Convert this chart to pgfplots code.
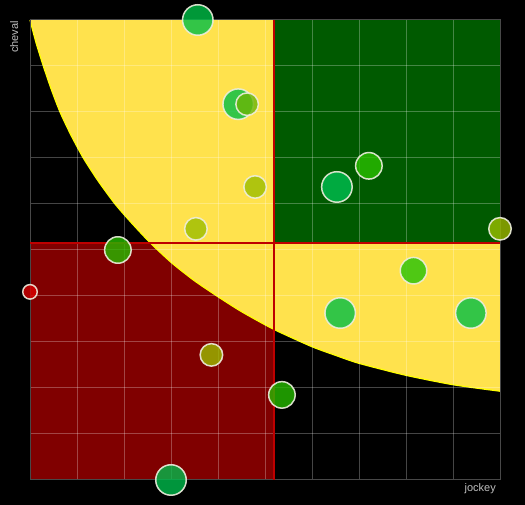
\documentclass[border=0pt]{standalone}
\usepackage{xcolor}
\usepackage{fontspec}
\setmainfont{Liberation Sans}
\usepackage{pgfplots}
\pgfplotsset{compat=1.18}
\definecolor{qred}{RGB}{128,0,0}
\definecolor{qgreen}{RGB}{0,90,0}
\definecolor{qyellow}{RGB}{255,226,77}
\definecolor{curveline}{RGB}{255,255,0}
\definecolor{divline}{RGB}{190,0,0}
\definecolor{frame}{RGB}{72,72,72}
\definecolor{lbl}{RGB}{190,190,190}
\definecolor{bstroke}{RGB}{238,238,222}
\definecolor{cA}{RGB}{0,190,70}
\definecolor{cB}{RGB}{107,181,6}
\definecolor{cC}{RGB}{156,189,0}
\definecolor{cD}{RGB}{0,190,80}
\definecolor{cE}{RGB}{42,190,0}
\definecolor{cF}{RGB}{155,190,0}
\definecolor{cG}{RGB}{38,187,0}
\definecolor{cH}{RGB}{220,0,0}
\definecolor{cI}{RGB}{36,194,6}
\definecolor{cJ}{RGB}{155,187,0}
\definecolor{cK}{RGB}{0,187,75}
\pagecolor{black}
\begin{document}
\begin{tikzpicture}[x=1pt,y=1pt]
\path (0,0) rectangle (525,505);
\begin{axis}[
  at={(30pt,25pt)}, anchor=south west,
  scale only axis, width=470pt, height=460pt,
  xmin=0, xmax=10, ymin=0, ymax=10,
  xtick={0,1,...,10}, ytick={0,1,...,10},
  xticklabels={}, yticklabels={},
  major tick length=0pt,
  grid=major,
  grid style={draw=white, draw opacity=0.27, line width=1pt},
  axis line style={draw=frame, line width=1pt},
  set layers, clip=false,
  bub/.style={only marks, mark=*, draw=bstroke, draw opacity=0.9, line width=1.5pt, fill opacity=0.8},
]
% red quadrant
\addplot[fill=qred, draw=none, on layer=axis background] coordinates {(0,0) (5.19,0) (5.19,5.16) (0,5.16)} -- cycle;
% yellow area above the curve
\addplot[smooth, tension=0.4, fill=qyellow, draw=none, on layer=axis background] coordinates {
 (0,10) (0.13,9.5) (0.283,9.0) (0.45,8.5) (0.638,8.0) (0.87,7.5) (1.134,7.0) (1.45,6.5) (1.809,6.0) (2.15,5.6) (2.553,5.16) (3.015,4.72) (3.5,4.33) (4.006,3.98) (4.5,3.66) (5.177,3.28) (5.994,2.90) (6.5,2.71) (6.985,2.54) (7.979,2.28) (9.006,2.07) (10,1.93)
} -- (axis cs:10,10) -- (axis cs:0,10) -- cycle;
\addplot[smooth, tension=0.4, draw=curveline, line width=1.2pt, on layer=axis background] coordinates {
 (0,10) (0.13,9.5) (0.283,9.0) (0.45,8.5) (0.638,8.0) (0.87,7.5) (1.134,7.0) (1.45,6.5) (1.809,6.0) (2.15,5.6) (2.553,5.16) (3.015,4.72) (3.5,4.33) (4.006,3.98) (4.5,3.66) (5.177,3.28) (5.994,2.90) (6.5,2.71) (6.985,2.54) (7.979,2.28) (9.006,2.07) (10,1.93)
};
% green quadrant
\addplot[fill=qgreen, draw=none, on layer=axis background] coordinates {(5.19,5.16) (10,5.16) (10,10) (5.19,10)} -- cycle;
% divider lines
\addplot[draw=divline, line width=2pt] coordinates {(0,5.16) (10,5.16)};
\addplot[draw=divline, line width=2pt] coordinates {(5.19,0) (5.19,10)};
% bubbles
\addplot[bub, mark size=15.25, fill=cA] coordinates {(3.57,10.0)};
\addplot[bub, mark size=15.25, fill=cA] coordinates {(4.43,8.17)};
\addplot[bub, mark size=11.25, fill=cB] coordinates {(4.62,8.17)};
\addplot[bub, mark size=11.25, fill=cC] coordinates {(4.79,6.37)};
\addplot[bub, mark size=11.25, fill=cC] coordinates {(3.53,5.46)};
\addplot[bub, mark size=15.25, fill=cD] coordinates {(6.53,6.37)};
\addplot[bub, mark size=13.25, fill=cE] coordinates {(7.21,6.83)};
\addplot[bub, mark size=11.25, fill=cF] coordinates {(10,5.46)};
\addplot[bub, mark size=13.25, fill=cG] coordinates {(1.87,5.0)};
\addplot[bub, mark size=7.25, fill=cH] coordinates {(0,4.09)};
\addplot[bub, mark size=13.25, fill=cI] coordinates {(8.16,4.55)};
\addplot[bub, mark size=15.25, fill=cA] coordinates {(6.6,3.63)};
\addplot[bub, mark size=15.25, fill=cA] coordinates {(9.38,3.63)};
\addplot[bub, mark size=11.25, fill=cJ] coordinates {(3.86,2.72)};
\addplot[bub, mark size=13.25, fill=cG] coordinates {(5.36,1.85)};
\addplot[bub, mark size=15.25, fill=cK] coordinates {(3.0,0.0)};
\end{axis}
\node[rotate=90, anchor=north east, inner sep=0pt, text=lbl, font=\fontsize{11}{13}\selectfont] at (10,484) {cheval};
\node[anchor=north east, inner sep=0pt, text=lbl, font=\fontsize{11}{13}\selectfont] at (496,22) {jockey};
\pgfresetboundingbox
\useasboundingbox (0,0) rectangle (525,505);
\end{tikzpicture}
\end{document}
